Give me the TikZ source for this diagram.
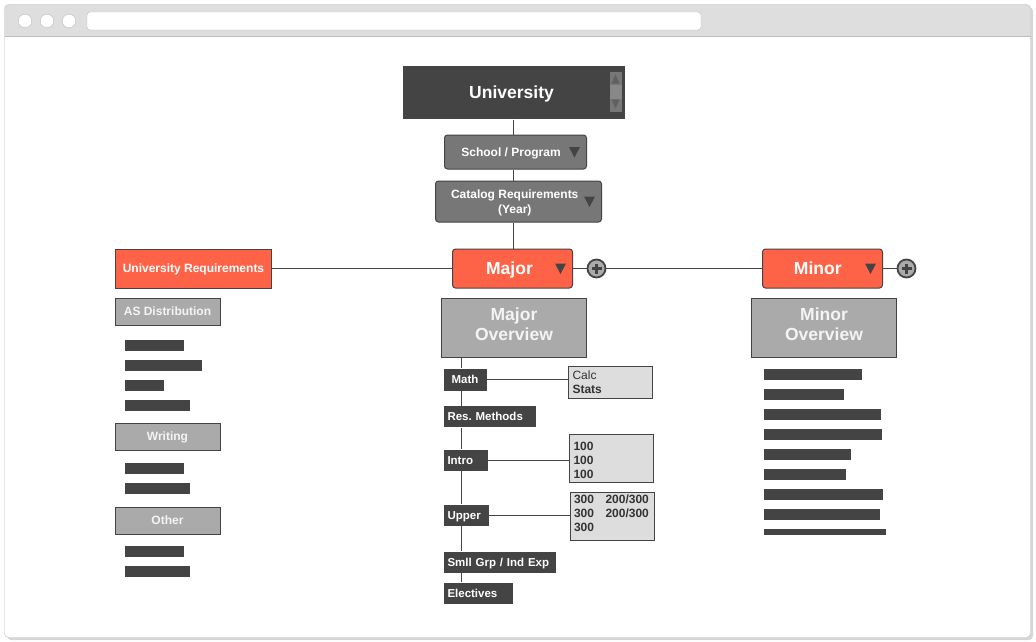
\documentclass[tikz,border=0pt]{standalone}
\usepackage{fontspec}
\setmainfont{Liberation Sans}
\usepackage{xcolor}
\usepackage{tikz}
\usetikzlibrary{
	positioning
}

\definecolor{darkc}{HTML}{444444}
\definecolor{menuc}{HTML}{777777}
\definecolor{scrollc}{HTML}{888888}
\definecolor{redc}{HTML}{FF6347}
\definecolor{grayc}{HTML}{AAAAAA}
\definecolor{lightc}{HTML}{DDDDDD}
\definecolor{softc}{HTML}{F4F4F4}
\definecolor{textc}{HTML}{333333}
\definecolor{framec}{HTML}{BDBDBD}
\definecolor{barbg}{HTML}{DEDEDE}
\definecolor{shadowc}{HTML}{D6D6D6}

\tikzset{
	plainbox/.style={draw=darkc, line width=1pt, inner sep=0pt, text=white, font=\bfseries\fontsize{12}{14}\selectfont},
	oneline/.style={text height=8.6pt, text depth=0pt},
	bigtext/.style={font=\bfseries\fontsize{17.5}{20}\selectfont},
	unibox/.style={plainbox, bigtext, text height=12.6pt, text depth=0pt, fill=darkc, draw=none, minimum width=222pt, minimum height=53pt},
	menubox/.style={plainbox, fill=menuc, rounded corners=3pt},
	redbox/.style={plainbox, oneline, fill=redc},
	pickbox/.style={plainbox, bigtext, text height=12.6pt, text depth=0pt, fill=redc, rounded corners=3pt, minimum width=120pt, minimum height=39pt},
	overbox/.style={plainbox, bigtext, fill=grayc, text=softc, align=center, minimum width=145pt, minimum height=59pt},
	headbox/.style={plainbox, oneline, fill=grayc, text=softc, minimum width=105pt, minimum height=27pt},
	tagbox/.style={plainbox, text height=8.3pt, text depth=0pt, font=\bfseries\fontsize{11.5}{14}\selectfont, draw=none, fill=darkc, anchor=west, inner xsep=4pt, align=left, minimum height=21pt},
	listbox/.style={plainbox, fill=lightc, text=textc, align=left, text width=76pt, inner xsep=4pt, line width=0.8pt},
	bar/.style={fill=darkc},
	link/.style={draw=darkc, line width=0.9pt},
	plus/.style={circle, draw=darkc, line width=1.8pt, fill=grayc, minimum size=18pt, inner sep=0pt},
	sign/.style={draw=darkc, line width=2.4pt}
}

\newcommand{\dropmark}[1]{\fill[darkc] ([shift={(-18,-5)}]#1.east) -- ++(11,0) -- ++(-5.5,10.5) -- cycle;}

\frenchspacing

\begin{document}
\begin{tikzpicture}[x=1pt,y=-1pt]
    \useasboundingbox (0,0) rectangle (1036,642);

    \fill[shadowc, rounded corners=4pt] (7,7) rectangle (1033,640);
    \fill[white, rounded corners=4pt] (4.5,4.5) rectangle (1030.5,637.5);
    \fill[barbg, rounded corners=4pt] (4.5,4.5) rectangle (1030.5,44);
    \fill[white] (5,36) rectangle (1030,44);
    \draw[framec] (4.5,36) -- (1030.5,36);
    \draw[framec, rounded corners=4pt] (4.5,4.5) rectangle (1030.5,637.5);
    \foreach \x in {25,47,69}
        \draw[framec, fill=white] (\x,21) circle (6.8pt);
    \draw[framec, fill=white, rounded corners=3pt] (87,12) rectangle (701,30);

    \coordinate (spine) at (461.5,357.5);

    \draw
        node [unibox] (uni) at (513.5,92.5) {University\kern4pt}
        node [menubox, oneline, minimum width=142pt, minimum height=34pt] (school) at (515.5,152) {School / Program\kern9pt}
        node [menubox, minimum width=166pt, minimum height=41pt, text height=14pt, text depth=6pt] (catalog) at (518.5,201.5)
            {\fontsize{12}{15}\selectfont\begin{tabular}{@{}c@{}}Catalog Requirements\\(Year)\end{tabular}\kern7.5pt}
        node [pickbox] (major) at (512.5,268.5) {Major\kern6pt}
        node [pickbox] (minor) at (822.5,268.5) {Minor\kern9.5pt}
        node [plus] (plusA) at (596.5,268.5) {}
        node [plus] (plusB) at (906.5,268.5) {}
        node [redbox, minimum width=156pt, minimum height=39pt] (ureq) at (193.5,268.5) {University Requirements}
        node [headbox] (asdist) at (167.5,311.5) {AS Distribution}
        node [headbox] (writing) at (167.5,436.5) {Writing}
        node [headbox] (other) at (167.5,520.5) {Other}
        node [overbox] (majov) at (514,327.5) {Major\\Overview\rule[-6pt]{0pt}{6pt}}
        node [overbox] (minov) at (824,327.5) {Minor\\Overview\rule[-6pt]{0pt}{6pt}}
        node [tagbox, text width=35pt, align=center, minimum height=22pt] (math) at (443,379.5) {Math}
        node [tagbox, text width=84pt] (res) at (443,416.5) {Res. Methods}
        node [tagbox, text width=36pt] (intro) at (443,460) {Intro}
        node [tagbox, text width=37pt] (upper) at (443,515) {Upper}
        node [tagbox, text width=104pt] (smll) at (443,562) {Smll Grp / Ind Exp}
        node [tagbox, text width=61pt] (elect) at (443,593) {Electives}
        node [listbox, minimum height=32pt] (calc) at (610.5,382.5) {{\mdseries Calc}\\Stats}
        node [listbox, minimum height=48pt] (introbox) at (611.5,458.5) {\rule{0pt}{12.6pt}100\\100\\100}
        node [listbox, minimum height=48pt] (upperbox) at (612,516) {300\kern11.5pt200/300\\300\kern11.5pt200/300\\300\rule[-5pt]{0pt}{5pt}}

        (uni.south) edge[link] (uni.south |- school.north)
        (school.south -| uni) edge[link] (catalog.north -| uni)
        (catalog.south -| uni) edge[link] (major.north -| uni)
        (ureq) edge[link] (major)
        (major) edge[link] (plusA)
        (plusA) edge[link] (minor)
        (minor) edge[link] (plusB)
        (spine) edge[link] (spine |- math.north)
        (spine |- math.south) edge[link] (spine |- res.north)
        (spine |- res.south) edge[link] (spine |- intro.north)
        (spine |- intro.south) edge[link] (spine |- upper.north)
        (spine |- upper.south) edge[link] (spine |- smll.north)
        (spine |- smll.south) edge[link] (spine |- elect.north)
        (math.east) edge[link] (math.east -| calc.west)
        (intro.east) edge[link] (intro.east -| introbox.west)
        (upper.east) edge[link] (upper.east -| upperbox.west)
    ;

    \dropmark{school}
    \dropmark{catalog}
    \dropmark{major}
    \dropmark{minor}

    \fill[menuc] ([shift={(-15.5,-20.5)}]uni.east) rectangle ([shift={(-3.5,19.5)}]uni.east);
    \fill[scrollc] ([shift={(-15.5,-8)}]uni.east) rectangle ([shift={(-3.5,6)}]uni.east);
    \fill[darkc!85] ([shift={(-13.5,-9)}]uni.east) -- ++(8,0) -- ++(-4,-9) -- cycle;
    \fill[darkc!85] ([shift={(-13.5,7)}]uni.east) -- ++(8,0) -- ++(-4,9) -- cycle;

    \draw[sign] (plusA.center) ++(-5,0) -- ++(10,0) (plusA.center) ++(0,-5) -- ++(0,10);
    \draw[sign] (plusB.center) ++(-5,0) -- ++(10,0) (plusB.center) ++(0,-5) -- ++(0,10);

    \foreach \w/\y in {59/340,77/360,39/380,65/400,59/463,65/483,59/546,65/566}
        \fill[bar] (125,\y) rectangle ++(\w,10.5);
    \foreach \w [count=\i from 0] in {98,80,117,118,87,82,119,116}
        \fill[bar] (764,369+20*\i) rectangle ++(\w,11);
    \fill[bar] (764,529) rectangle ++(122,6);
\end{tikzpicture}
\end{document}
